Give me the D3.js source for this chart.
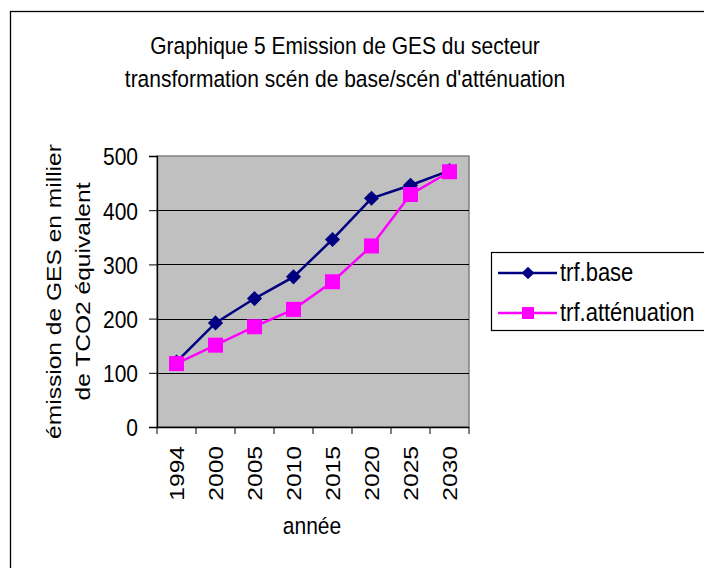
<!DOCTYPE html>
<html>
<head>
<meta charset="utf-8">
<script src="https://cdn.jsdelivr.net/npm/d3@7/dist/d3.min.js"></script>
<style>
  body { margin: 0; background: #fff; }
  svg text { font-family: 'Liberation Sans', Arial, sans-serif; fill: #000; }
</style>
</head>
<body>
<div id="chart"></div>
<script>
// data
const years = ["1994", "2000", "2005", "2010", "2015", "2020", "2025", "2030"];
const base = [120, 192, 237, 277, 346, 422, 446, 473];
const attenuation = [117, 151, 185, 217, 268, 334, 429, 471];
const yTicks = [0, 100, 200, 300, 400, 500];
const seriesNames = ["trf.base", "trf.atténuation"];

const width = 704, height = 568;
const plot = {left: 157, right: 469, top: 156, bottom: 427};
const fs = "21px";
const stretch = "scale(1,1.17)"; // the original's text looks a bit tall

const svg = d3.select("#chart").append("svg")
  .attr("width", width)
  .attr("height", height);

// outer chart frame (runs off right/bottom)
svg.append("rect")
  .attr("x", 10.5).attr("y", 11.5)
  .attr("width", 720).attr("height", 600)
  .attr("fill", "#fff")
  .attr("stroke", "#000").attr("stroke-width", 1.3);

// title
svg.append("text").attr("transform", `translate(345,54) ${stretch}`)
  .attr("text-anchor", "middle").style("font-size", fs)
  .text("Graphique 5 Emission de GES du secteur");
svg.append("text").attr("transform", `translate(345,87) ${stretch}`)
  .attr("text-anchor", "middle").style("font-size", fs)
  .text("transformation scén de base/scén d'atténuation");

const x = d3.scaleBand().domain(years).range([plot.left, plot.right]);
const y = d3.scaleLinear().domain([0, 500]).range([plot.bottom, plot.top]);

// plot area
svg.append("rect")
  .attr("x", plot.left).attr("y", plot.top)
  .attr("width", plot.right - plot.left).attr("height", plot.bottom - plot.top)
  .attr("fill", "#c0c0c0")
  .attr("stroke", "#808080").attr("stroke-width", 1.5);

// gridlines
svg.append("g").selectAll("line")
  .data(yTicks.filter(d => d > 0 && d < 500))
  .join("line")
  .attr("x1", plot.left).attr("x2", plot.right)
  .attr("y1", d => Math.round(y(d)) + 0.5).attr("y2", d => Math.round(y(d)) + 0.5)
  .attr("stroke", "#000").attr("stroke-width", 1);

// y axis
const yAxis = svg.append("g")
  .attr("transform", `translate(${plot.left},0)`)
  .call(d3.axisLeft(y).tickValues(yTicks).tickSize(8).tickPadding(11));
yAxis.select(".domain").attr("stroke", "#000").attr("stroke-width", 1.3);
yAxis.selectAll("text").style("font-size", fs).attr("fill", "#000")
  .attr("dy", "0.36em")
  .attr("transform", stretch)
  .style("font-family", "'Liberation Sans', Arial, sans-serif");

// x axis: ticks at category boundaries
const xAxis = svg.append("g")
  .attr("transform", `translate(0,${plot.bottom})`);
xAxis.append("line")
  .attr("x1", plot.left).attr("x2", plot.right)
  .attr("y1", 0.5).attr("y2", 0.5)
  .attr("stroke", "#000").attr("stroke-width", 1.3);
const bounds = years.map(d => x(d)).concat([x(years[years.length - 1]) + x.bandwidth()]);
xAxis.selectAll("line.tick").data(bounds).join("line")
  .attr("class", "tick")
  .attr("x1", d => d).attr("x2", d => d)
  .attr("y1", 0).attr("y2", 7)
  .attr("stroke", "#000");
xAxis.selectAll("text").data(years).join("text")
  .attr("transform", d => `translate(${x(d) + x.bandwidth() / 2 + 7.5},${19}) ${stretch} rotate(-90)`)
  .attr("text-anchor", "end")
  .style("font-size", fs)
  .text(d => d);

// axis titles
svg.append("text")
  .attr("transform", `translate(312,534) ${stretch}`)
  .attr("text-anchor", "middle").style("font-size", fs)
  .text("année");
svg.append("text")
  .attr("transform", `translate(61,${(plot.top + plot.bottom) / 2}) ${stretch} rotate(-90)`)
  .attr("text-anchor", "middle").style("font-size", fs)
  .text("émission de GES en millier");
svg.append("text")
  .attr("transform", `translate(90,${(plot.top + plot.bottom) / 2}) ${stretch} rotate(-90)`)
  .attr("text-anchor", "middle").style("font-size", fs)
  .text("de TCO2 équivalent");

const cx = d => x(d) + x.bandwidth() / 2;
const line = d3.line().x(d => cx(d[0])).y(d => y(d[1]));

const baseData = years.map((d, i) => [d, base[i]]);
const attData = years.map((d, i) => [d, attenuation[i]]);

const diamond = d3.symbol().type(d3.symbolSquare).size(115);

// base series
svg.append("path").datum(baseData)
  .attr("d", line).attr("fill", "none")
  .attr("stroke", "#000080").attr("stroke-width", 2.5);
svg.append("g").selectAll("path").data(baseData).join("path")
  .attr("d", diamond)
  .attr("transform", d => `translate(${cx(d[0])},${y(d[1])}) rotate(45)`)
  .attr("fill", "#000080");

// attenuation series
svg.append("path").datum(attData)
  .attr("d", line).attr("fill", "none")
  .attr("stroke", "#ff00ff").attr("stroke-width", 2.5);
svg.append("g").selectAll("rect").data(attData).join("rect")
  .attr("x", d => cx(d[0]) - 7.5).attr("y", d => y(d[1]) - 7.5)
  .attr("width", 15).attr("height", 15)
  .attr("fill", "#ff00ff");

// legend
const legend = svg.append("g");
legend.append("rect")
  .attr("x", 491.5).attr("y", 252.5)
  .attr("width", 230).attr("height", 78)
  .attr("fill", "#fff").attr("stroke", "#000").attr("stroke-width", 1.2);
const colors = ["#000080", "#ff00ff"];
const rows = legend.selectAll("g").data(seriesNames).join("g")
  .attr("transform", (d, i) => `translate(0,${273 + i * 40})`);
rows.append("line")
  .attr("x1", 498).attr("x2", 557).attr("y1", 0).attr("y2", 0)
  .attr("stroke", (d, i) => colors[i]).attr("stroke-width", 2.5);
rows.filter((d, i) => i === 0).append("path")
  .attr("d", d3.symbol().type(d3.symbolSquare).size(80))
  .attr("transform", "translate(528,0) rotate(45)")
  .attr("fill", colors[0]);
rows.filter((d, i) => i === 1).append("rect")
  .attr("x", 522).attr("y", -6).attr("width", 12).attr("height", 12)
  .attr("fill", colors[1]);
rows.append("text")
  .attr("transform", `translate(560,8) ${stretch}`)
  .style("font-size", "22px")
  .text(d => d);
</script>
</body>
</html>
